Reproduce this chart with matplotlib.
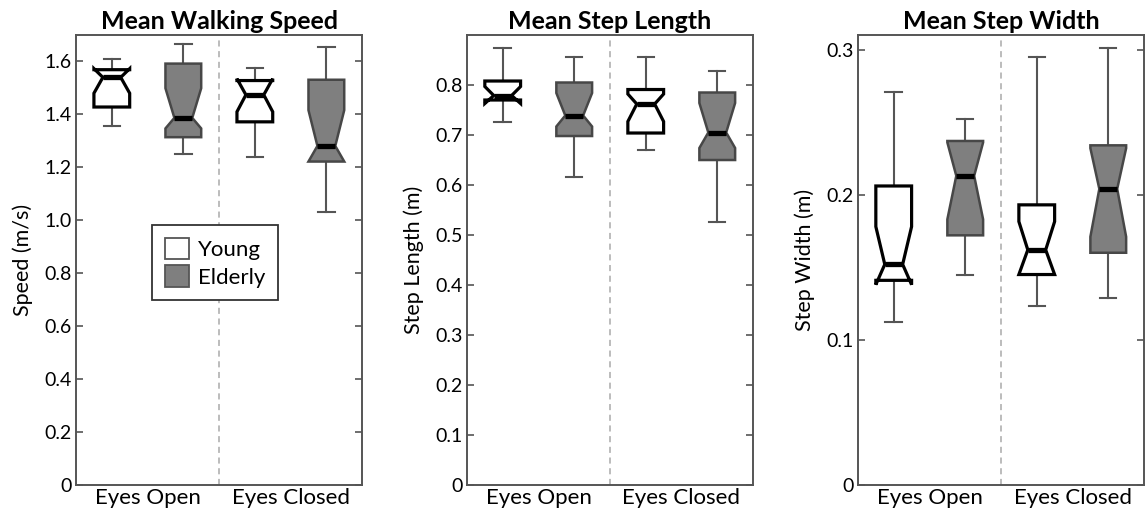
import matplotlib
matplotlib.use('Agg')
import matplotlib.pyplot as plt
from matplotlib.patches import Patch

plt.rcParams['font.family'] = ['Lato', 'DejaVu Sans']

groups = ['Young', 'Elderly']
conditions = ['Eyes Open', 'Eyes Closed']
# box order: Young/Open, Elderly/Open, Young/Closed, Elderly/Closed

# Mean walking speed (m/s)
speed_whishi = [1.611, 1.667, 1.575, 1.655]
speed_q3 = [1.569, 1.592, 1.528, 1.531]
speed_cihi = [1.573, 1.499, 1.535, 1.416]
speed_med = [1.540, 1.387, 1.474, 1.281]
speed_cilo = [1.480, 1.347, 1.410, 1.222]
speed_q1 = [1.428, 1.314, 1.372, 1.222]
speed_whislo = [1.357, 1.251, 1.241, 1.033]

# Mean step length (m)
length_whishi = [0.875, 0.857, 0.857, 0.828]
length_q3 = [0.808, 0.805, 0.791, 0.785]
length_cihi = [0.797, 0.784, 0.782, 0.764]
length_med = [0.779, 0.739, 0.762, 0.705]
length_cilo = [0.763, 0.717, 0.727, 0.674]
length_q1 = [0.770, 0.698, 0.704, 0.650]
length_whislo = [0.726, 0.617, 0.671, 0.527]

# Mean step width (m)
width_whishi = [0.271, 0.252, 0.295, 0.301]
width_q3 = [0.206, 0.237, 0.193, 0.234]
width_cihi = [0.178, 0.236, 0.1815, 0.232]
width_med = [0.152, 0.213, 0.162, 0.204]
width_cilo = [0.138, 0.183, 0.145, 0.171]
width_q1 = [0.141, 0.172, 0.145, 0.160]
width_whislo = [0.112, 0.145, 0.123, 0.129]

speed_ticks = [0, 0.2, 0.4, 0.6, 0.8, 1.0, 1.2, 1.4, 1.6]
speed_labels = ['0', '0.2', '0.4', '0.6', '0.8', '1.0', '1.2', '1.4', '1.6']
length_ticks = [0, 0.1, 0.2, 0.3, 0.4, 0.5, 0.6, 0.7, 0.8]
length_labels = ['0', '0.1', '0.2', '0.3', '0.4', '0.5', '0.6', '0.7', '0.8']
width_ticks = [0, 0.1, 0.2, 0.3]
width_labels = ['0', '0.1', '0.2', '0.3']


def make_stats(whislo, q1, cilo, med, cihi, q3, whishi):
    stats = []
    for i in range(len(med)):
        stats.append(dict(whislo=whislo[i], q1=q1[i], cilo=cilo[i], med=med[i],
                          cihi=cihi[i], q3=q3[i], whishi=whishi[i], fliers=[]))
    return stats


panels = [
    ('Mean Walking Speed', 'Speed (m/s)', 1.7, speed_ticks, speed_labels,
     make_stats(speed_whislo, speed_q1, speed_cilo, speed_med, speed_cihi, speed_q3, speed_whishi)),
    ('Mean Step Length', 'Step Length (m)', 0.9, length_ticks, length_labels,
     make_stats(length_whislo, length_q1, length_cilo, length_med, length_cihi, length_q3, length_whishi)),
    ('Mean Step Width', 'Step Width (m)', 0.31, width_ticks, width_labels,
     make_stats(width_whislo, width_q1, width_cilo, width_med, width_cihi, width_q3, width_whishi)),
]

fig = plt.figure(figsize=(11.47, 5.18), dpi=100)
lefts = [0.0663, 0.4071, 0.748]
spine_col = '#555555'
elder_fill = '#7f7f7f'
elder_edge = '#474747'

for left, (title, ylabel, ytop, ticks, tlabels, stats) in zip(lefts, panels):
    ax = fig.add_axes([left, 0.0637, 0.2494, 0.8687])
    ax.axvline(2.5, color='#aaaaaa', lw=1.1, ls=(0, (4, 3)), zorder=0)

    bp = ax.bxp(stats, positions=[1, 2, 3, 4], widths=0.5, capwidths=0.23,
                shownotches=True, patch_artist=True, showfliers=False)
    for i, box in enumerate(bp['boxes']):
        if i % 2 == 0:
            box.set_facecolor('white')
            box.set_edgecolor('black')
            box.set_linewidth(2.3)
        else:
            box.set_facecolor(elder_fill)
            box.set_edgecolor(elder_edge)
            box.set_linewidth(1.8)
        box.set_zorder(3)
    for w in bp['whiskers'] + bp['caps']:
        w.set_color('#555555')
        w.set_linewidth(1.5)
        w.set_zorder(2)
    for m in bp['medians']:
        m.set_color('black')
        m.set_linewidth(3.8)
        m.set_solid_capstyle('butt')
        m.set_zorder(4)

    ax.set_xlim(0.5, 4.5)
    ax.set_ylim(0, ytop)
    ax.set_xticks([1.5, 3.5])
    ax.set_xticklabels(conditions, fontsize=16)
    ax.set_yticks(ticks)
    ax.set_yticklabels(tlabels, fontsize=14)
    ax.tick_params(axis='x', length=0, pad=2)
    ax.tick_params(axis='y', direction='in', length=5, width=1.2, color=spine_col,
                   right=True, pad=3)
    for s in ax.spines.values():
        s.set_color(spine_col)
        s.set_linewidth(1.4)
    ax.set_title(title, fontsize=18, fontweight='bold', pad=4)
    ax.set_ylabel(ylabel, fontsize=15.5, labelpad=8)

    if title == 'Mean Walking Speed':
        handles = [Patch(facecolor='white', edgecolor='#555555', lw=1.3, label=groups[0]),
                   Patch(facecolor=elder_fill, edgecolor='#555555', lw=1.3, label=groups[1])]
        leg = ax.legend(handles=handles, loc='center', bbox_to_anchor=(0.486, 0.494),
                        fontsize=16, fancybox=False, framealpha=1, edgecolor='#333333',
                        handlelength=1.1, handleheight=1.1, handletextpad=0.4,
                        borderpad=0.55, labelspacing=0.25)
        leg.get_frame().set_linewidth(1.3)
        leg.set_zorder(5)

fig.savefig('out.png', dpi=100)
